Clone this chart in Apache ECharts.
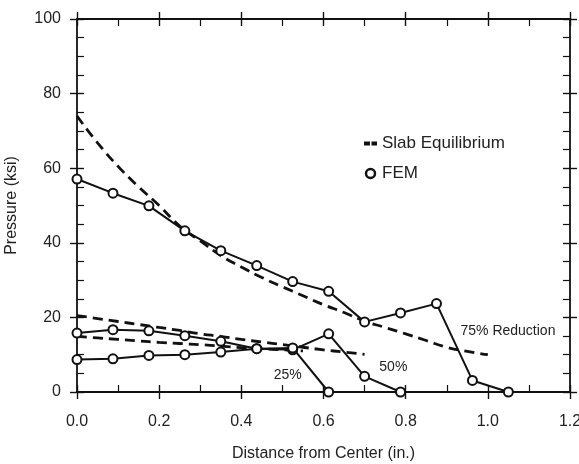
<!DOCTYPE html>
<html>
<head>
<meta charset="utf-8">
<script src="https://cdn.jsdelivr.net/npm/echarts@6/dist/echarts.min.js"></script>
<style>
html,body{margin:0;padding:0;background:#fff;}
#chart{width:579px;height:464px;}
</style>
</head>
<body>
<div id="chart"></div>
<script>
// FEM node positions (in.) and pressures (ksi)
const xFem = [0, 0.0875, 0.175, 0.2625, 0.35, 0.4375, 0.525, 0.6125, 0.7, 0.7875, 0.875, 0.9625, 1.05];
const fem75 = [57.1, 53.3, 49.9, 43.2, 37.9, 33.9, 29.6, 27.0, 18.8, 21.2, 23.7, 3.1, 0];
const fem50 = [15.8, 16.7, 16.4, 15.1, 13.6, 11.6, 11.3, 15.6, 4.2, 0];
const fem25 = [8.7, 8.9, 9.8, 10.0, 10.7, 11.6, 11.8, 0];

// Slab equilibrium curves
const xSlab = [0, 0.05, 0.1, 0.15, 0.2, 0.25, 0.3, 0.35, 0.4, 0.45, 0.5, 0.55, 0.6, 0.65, 0.7, 0.75, 0.8, 0.85, 0.9, 0.95, 1.0];
const slab75 = [74, 66.8, 60.5, 55, 50, 44.5, 40.5, 36.6, 33.5, 30.7, 28.2, 25.8, 23.4, 21.3, 19, 17.3, 15.6, 13.8, 12.0, 10.9, 10.0];
const slab50 = [20.5, 19.7, 18.9, 18.1, 17.3, 16.5, 15.6, 14.9, 14.1, 13.4, 12.7, 12.0, 11.3, 10.7, 10.1];
const slab25 = [14.9, 14.5, 14.1, 13.7, 13.3, 13.0, 12.7, 12.3, 11.9, 11.6, 11.3, 11.0];

// Curve annotations: [text, x, y]
const curveLabels = [['75% Reduction', 1.049, 16.4], ['50%', 0.77, 6.7], ['25%', 0.513, 4.6]];

// Axis ticks
const xTicks = [0, 0.2, 0.4, 0.6, 0.8, 1.0, 1.2];
const yTicks = [0, 20, 40, 60, 80, 100];

const FONT = 'Liberation Sans, Arial, sans-serif';
const INK = '#111';
const zip = (xs, ys) => ys.map((y, i) => [xs[i], y]);

function xAx(pos, inside, labels) {
  return {
    type: 'value', position: pos, min: xTicks[0], max: xTicks[xTicks.length - 1], interval: 0.2,
    axisLine: {show: inside, onZero: false, lineStyle: {color: INK, width: 1.8}},
    axisTick: {show: true, inside: inside, length: 7, lineStyle: {color: INK, width: 1.4}},
    minorTick: {show: inside, splitNumber: 2, length: 7, lineStyle: {color: INK, width: 1.2}},
    splitLine: {show: false},
    axisLabel: {show: labels, margin: 22, fontFamily: FONT, fontSize: 16, color: '#222',
      formatter: v => v.toFixed(1)},
    name: labels ? 'Distance from Center (in.)' : '',
    nameLocation: 'middle', nameGap: 54,
    nameTextStyle: {fontFamily: FONT, fontSize: 16, color: '#222'}
  };
}
function yAx(pos, inside, labels) {
  return {
    type: 'value', position: pos, min: yTicks[0], max: yTicks[yTicks.length - 1], interval: 20,
    axisLine: {show: inside, onZero: false, lineStyle: {color: INK, width: 1.8}},
    axisTick: {show: true, inside: inside, length: 7, lineStyle: {color: INK, width: 1.4}},
    minorTick: {show: inside, splitNumber: 4, length: 7, lineStyle: {color: INK, width: 1.2}},
    splitLine: {show: false},
    axisLabel: {show: labels, margin: 16, fontFamily: FONT, fontSize: 16, color: '#222'},
    name: labels ? 'Pressure (ksi)' : '',
    nameLocation: 'middle', nameGap: 57,
    nameTextStyle: {fontFamily: FONT, fontSize: 16, color: '#222'}
  };
}

const dashStyle = {color: INK, width: 2.8, type: [10, 6]};
function slabSeries(name, xs, ys) {
  return {name: name, type: 'line', data: zip(xs, ys), smooth: true, showSymbol: false,
    symbol: 'none', lineStyle: dashStyle, itemStyle: {color: INK}, silent: true, z: 2};
}
function femSeries(name, ys, label) {
  const s = {name: name, type: 'line', data: zip(xFem, ys), symbol: 'emptyCircle', symbolSize: 9,
    showSymbol: true, lineStyle: {color: INK, width: 2}, itemStyle: {color: INK, borderWidth: 2, borderColor: INK},
    silent: true, z: 3};
  if (label) {
    s.markPoint = {symbol: 'circle', symbolSize: 0, silent: true,
      label: {show: true, position: 'inside', fontFamily: FONT, fontSize: 14, color: '#222',
        formatter: p => p.name},
      data: [{name: label[0], coord: [label[1], label[2]]}]};
  }
  return s;
}

const chart = echarts.init(document.getElementById('chart'), null, {renderer: 'canvas'});
chart.setOption({
  backgroundColor: '#fff',
  animation: false,
  grid: {left: 77, right: 9, top: 19, bottom: 72, containLabel: false, outerBoundsMode: 'none'},
  xAxis: [xAx('bottom', true, true), xAx('top', true, false), xAx('bottom', false, false), xAx('top', false, false)],
  yAxis: [yAx('left', true, true), yAx('right', true, false), yAx('left', false, false), yAx('right', false, false)],
  legend: {
    orient: 'vertical', left: 359, top: 130, itemWidth: 13, itemHeight: 9, itemGap: 13, itemTextGap: 4,
    selectedMode: false,
    textStyle: {fontFamily: FONT, fontSize: 17, color: '#222'},
    data: [
      {name: 'Slab Equilibrium', icon: 'path://M0,0H6V4H0Z M7.5,0H13V4H7.5Z', itemStyle: {color: INK}},
      {name: 'FEM', icon: 'circle', itemStyle: {color: '#fff', borderColor: INK, borderWidth: 2.5}}
    ]
  },
  series: [
    slabSeries('Slab Equilibrium', xSlab, slab75),
    slabSeries('Slab 50%', xSlab, slab50),
    slabSeries('Slab 25%', xSlab, slab25),
    femSeries('FEM', fem75, curveLabels[0]),
    femSeries('FEM 50%', fem50, curveLabels[1]),
    femSeries('FEM 25%', fem25, curveLabels[2])
  ]
});
</script>
</body>
</html>
